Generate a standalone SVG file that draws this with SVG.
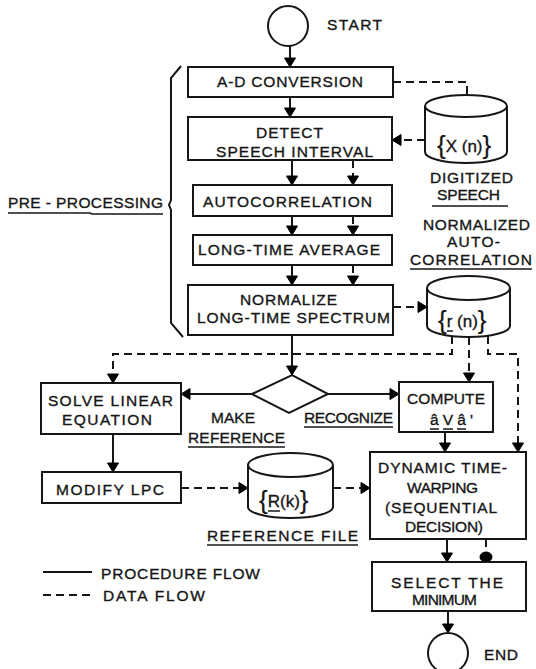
<svg xmlns="http://www.w3.org/2000/svg" width="536" height="669" viewBox="0 0 536 669">
  <style>
    text { font-family: "Liberation Sans", Arial, sans-serif; font-size: 15.5px; fill: #161616; stroke: #161616; stroke-width: 0.35; }
    .brace { font-size: 26px; stroke-width: 0.2; }
    .store { font-size: 17px; }
    .box { fill: #fff; stroke: #161616; stroke-width: 2; }
    .term { fill: #fff; stroke: #161616; stroke-width: 2; }
    .cyl { fill: #fff; stroke: #161616; stroke-width: 2; }
    .proc { fill: none; stroke: #161616; stroke-width: 2; }
    .data { fill: none; stroke: #161616; stroke-width: 2; stroke-dasharray: 8 5; }
    .uline { fill: none; stroke: #161616; stroke-width: 1.5; }
    .head { fill: #000; stroke: #000; stroke-width: 1; stroke-linejoin: round; }
  </style>
  <rect width="536" height="669" fill="#fff"/>

  <!-- connectors: lines first, heads after -->
  <g id="connectors">
    <!-- procedure flow -->
    <path class="proc" d="M290,46 V60"/>
    <path class="proc" d="M290,97 V110"/>
    <path class="proc" d="M292,160 V178"/>
    <path class="proc" d="M292,216 V228"/>
    <path class="proc" d="M292,265 V278"/>
    <path class="proc" d="M292,335 V368"/>
    <path class="proc" d="M252,394 H188"/>
    <path class="proc" d="M328,394 H392"/>
    <path class="proc" d="M113,434 V465"/>
    <path class="proc" d="M445,432 V445"/>
    <path class="proc" d="M447,539 V555"/>
    <path class="proc" d="M448,611 V626"/>
    <!-- data flow -->
    <path class="data" d="M393,82 H467 V110"/>
    <path class="data" d="M425,140 H399"/>
    <path class="data" d="M353,160 V178"/>
    <path class="data" d="M353,216 V228"/>
    <path class="data" d="M353,265 V278"/>
    <path class="data" d="M393,307 H420"/>
    <path class="data" d="M452,336 V354 H113 V376"/>
    <path class="data" d="M469,337 V375"/>
    <path class="data" d="M488,336 V354 H518 V445"/>
    <path class="data" d="M181,488 H241"/>
    <path class="data" d="M333,488 H363"/>
    <path class="data" d="M486,539 V554"/>

    <!-- arrowheads pointing down -->
    <polygon class="head" points="284.5,58 295.5,58 290,67"/>
    <polygon class="head" points="284.5,108 295.5,108 290,117"/>
    <polygon class="head" points="286.5,176 297.5,176 292,185"/>
    <polygon class="head" points="286.5,226 297.5,226 292,235"/>
    <polygon class="head" points="286.5,276 297.5,276 292,285"/>
    <polygon class="head" points="286.5,366 297.5,366 292,375"/>
    <polygon class="head" points="107.5,463 118.5,463 113,472"/>
    <polygon class="head" points="439.5,443 450.5,443 445,452"/>
    <polygon class="head" points="441.5,553 452.5,553 447,562"/>
    <polygon class="head" points="442.5,624 453.5,624 448,633"/>
    <polygon class="head" points="461.5,108 472.5,108 467,117"/>
    <polygon class="head" points="347.5,176 358.5,176 353,185"/>
    <polygon class="head" points="347.5,226 358.5,226 353,235"/>
    <polygon class="head" points="347.5,276 358.5,276 353,285"/>
    <polygon class="head" points="107.5,374 118.5,374 113,383"/>
    <polygon class="head" points="463.5,373 474.5,373 469,382"/>
    <polygon class="head" points="512.5,443 523.5,443 518,452"/>
    <!-- arrowheads pointing left -->
    <polygon class="head" points="190,388.5 190,399.5 181,394"/>
    <polygon class="head" points="401,134.5 401,145.5 392,140"/>
    <!-- arrowheads pointing right -->
    <polygon class="head" points="390,388.5 390,399.5 399,394"/>
    <polygon class="head" points="418,301.5 418,312.5 427,307"/>
    <polygon class="head" points="239,482.5 239,493.5 248,488"/>
    <polygon class="head" points="361,482.5 361,493.5 370,488"/>
    <!-- rounded head on the data line into the selector -->
    <ellipse class="head" cx="486" cy="557" rx="6" ry="5"/>
  </g>

  <!-- terminals -->
  <g id="start">
    <circle class="term" cx="288" cy="26" r="20"/>
    <text x="327" y="30" textLength="55">START</text>
  </g>
  <g id="end">
    <circle class="term" cx="448" cy="653" r="20"/>
    <text x="484" y="660" textLength="34">END</text>
  </g>

  <!-- pre-processing steps -->
  <g id="ad-conversion">
    <rect class="box" x="188" y="67" width="205" height="30"/>
    <text x="217" y="87" textLength="146">A-D CONVERSION</text>
  </g>
  <g id="detect-speech-interval">
    <rect class="box" x="188" y="117" width="204" height="43"/>
    <text x="256" y="138" textLength="67">DETECT</text>
    <text x="216" y="157" textLength="157">SPEECH INTERVAL</text>
  </g>
  <g id="autocorrelation">
    <rect class="box" x="193" y="185" width="199" height="31"/>
    <text x="203" y="207" textLength="169">AUTOCORRELATION</text>
  </g>
  <g id="long-time-average">
    <rect class="box" x="193" y="235" width="199" height="30"/>
    <text x="198" y="255" textLength="182">LONG-TIME AVERAGE</text>
  </g>
  <g id="normalize-spectrum">
    <rect class="box" x="188" y="285" width="205" height="50"/>
    <text x="240" y="305" textLength="97">NORMALIZE</text>
    <text x="197" y="323" textLength="193">LONG-TIME SPECTRUM</text>
  </g>

  <!-- pre-processing bracket -->
  <g id="pre-processing">
    <path class="proc" d="M181,66 L171,78 L171,200 L169,205 L171,210 L171,323 L183,337"/>
    <text x="8" y="208" textLength="155">PRE - PROCESSING</text>
    <path class="uline" d="M8,213 H90 L92,214 H163"/>
  </g>

  <!-- data stores -->
  <g id="digitized-speech">
    <path class="cyl" d="M425,106 V152 A41,11 0 0 0 507,152 V106"/>
    <ellipse class="cyl" cx="466" cy="106" rx="41" ry="11"/>
    <text x="437" y="152"><tspan class="brace" dy="2">{</tspan><tspan class="store" dy="-2">X (n)</tspan><tspan class="brace" dy="2">}</tspan></text>
    <text x="430" y="183" textLength="83">DIGITIZED</text>
    <text x="437" y="200" textLength="63">SPEECH</text>
    <path class="uline" d="M432,206 H508"/>
  </g>
  <g id="normalized-autocorrelation">
    <path class="cyl" d="M427,288 V326 A41.5,11 0 0 0 510,326 V288"/>
    <ellipse class="cyl" cx="468.5" cy="288" rx="41.5" ry="12"/>
    <text x="438" y="327"><tspan class="brace" dy="2">{</tspan><tspan class="store" dy="-2">r (n)</tspan><tspan class="brace" dy="2">}</tspan></text>
    <path class="uline" d="M447,331 H453"/>
    <text x="423" y="230" textLength="107">NORMALIZED</text>
    <text x="447" y="247" textLength="53">AUTO-</text>
    <text x="410" y="265" textLength="122">CORRELATION</text>
    <path class="uline" d="M410,269 H532"/>
  </g>
  <g id="reference-file">
    <path class="cyl" d="M248,465 V507 A42.5,11 0 0 0 333,507 V465"/>
    <ellipse class="cyl" cx="290.5" cy="465" rx="42.5" ry="12"/>
    <text x="259" y="507"><tspan class="brace" dy="2">{</tspan><tspan class="store" dy="-2">R(k)</tspan><tspan class="brace" dy="2">}</tspan></text>
    <path class="uline" d="M268,511 H280"/>
    <text x="207" y="541" textLength="151">REFERENCE FILE</text>
    <path class="uline" d="M207,545 H358"/>
  </g>

  <!-- decision -->
  <g id="make-or-recognize">
    <path class="box" d="M252,394 L292,375 L328,394 L289,413 Z"/>
    <text x="211" y="423" textLength="44">MAKE</text>
    <text x="188" y="443" textLength="97">REFERENCE</text>
    <path class="uline" d="M188,447 H285"/>
    <text x="304" y="423" textLength="89">RECOGNIZE</text>
    <path class="uline" d="M304,427 H393"/>
  </g>

  <!-- reference branch -->
  <g id="solve-linear-equation">
    <rect class="box" x="41" y="383" width="140" height="51"/>
    <text x="48" y="406" textLength="125">SOLVE LINEAR</text>
    <text x="62" y="425" textLength="90">EQUATION</text>
  </g>
  <g id="modify-lpc">
    <rect class="box" x="42" y="472" width="139" height="31"/>
    <text x="56" y="495" textLength="108">MODIFY LPC</text>
  </g>

  <!-- recognition branch -->
  <g id="compute-distance">
    <rect class="box" x="399" y="382" width="94" height="50"/>
    <text x="407" y="404" textLength="78">COMPUTE</text>
    <text x="430" y="425" textLength="43">âVâ'</text>
    <path class="uline" d="M430,429 H439 M443,429 H453 M457,429 H466"/>
  </g>
  <g id="dynamic-time-warping">
    <rect class="box" x="370" y="452" width="156" height="87"/>
    <text x="378" y="473" textLength="129">DYNAMIC TIME-</text>
    <text x="407" y="493" textLength="71">WARPING</text>
    <text x="385" y="513" textLength="112">(SEQUENTIAL</text>
    <text x="405" y="532" textLength="78">DECISION)</text>
  </g>
  <g id="select-minimum">
    <rect class="box" x="372" y="562" width="154" height="49"/>
    <text x="391" y="588" textLength="112">SELECT THE</text>
    <text x="412" y="605" textLength="65">MINIMUM</text>
  </g>

  <!-- legend -->
  <g id="legend">
    <path class="proc" d="M43,572 H92"/>
    <text x="101" y="579" textLength="159">PROCEDURE FLOW</text>
    <path class="data" d="M43,595 H94"/>
    <text x="103" y="601" textLength="102">DATA FLOW</text>
  </g>
</svg>
